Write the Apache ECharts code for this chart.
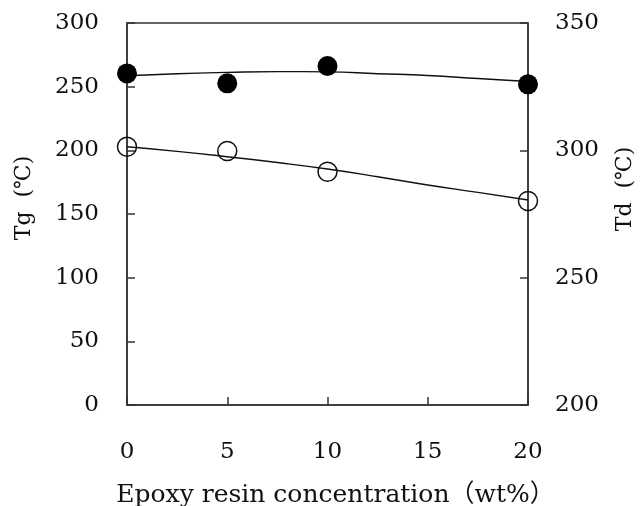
<!DOCTYPE html>
<html>
<head>
<meta charset="utf-8">
<script src="https://cdn.jsdelivr.net/npm/echarts@6/dist/echarts.min.js"></script>
<style>
  html, body { margin: 0; padding: 0; background: #fff; }
  #chart { width: 640px; height: 506px; }
</style>
</head>
<body>
<div id="chart"></div>
<script>
// epoxy resin concentration (wt%)
var conc = [0, 5, 10, 20];
// Td (filled circles, right axis)
var tdValues = [330.2, 326.3, 333.1, 325.9];
// Tg (open circles, left axis)
var tgValues = [202.8, 199.5, 183.2, 160.2];

// fitted curves
var fitX = [0, 2.5, 5, 7.5, 10, 12.5, 15, 17.5, 20];
var tdFit = [329.3, 330.1, 330.6, 330.9, 330.8, 330.1, 329.4, 328.2, 327.0];
var tgFit = [202.8, 199.2, 195.0, 190.4, 185.3, 179.3, 172.8, 167.0, 161.0];

var xTicks = [0, 5, 10, 15, 20];

function pairs(xs, ys) {
  var out = [];
  for (var i = 0; i < xs.length; i++) {
    out.push([xs[i], ys[i]]);
  }
  return out;
}

var font = "'DejaVu Serif', 'Noto Sans CJK JP'";
var axisColor = "#333";
var textColor = "#111";

var chart = echarts.init(document.getElementById("chart"));
var option = {
  animation: false,
  backgroundColor: "#fff",
  grid: {
    left: 127,
    right: 112,
    top: 23,
    bottom: 101,
    outerBoundsMode: "none",
    show: true,
    borderColor: axisColor,
    borderWidth: 1.5,
  },
  xAxis: {
    type: "value",
    min: 0,
    max: 20,
    interval: 5,
    name: "Epoxy resin concentration（wt%）",
    nameLocation: "middle",
    nameGap: 78,
    nameTextStyle: { fontFamily: font, fontSize: 25, color: textColor, padding: [0, 0, 0, 16] },
    axisLine: { lineStyle: { color: axisColor, width: 1.5 } },
    axisTick: { inside: true, length: 8, lineStyle: { color: axisColor, width: 1.5 } },
    axisLabel: {
      margin: 36,
      fontFamily: font,
      fontSize: 23,
      color: textColor,
      formatter: function (v) {
        return xTicks.indexOf(v) >= 0 ? String(v) : "";
      },
    },
    splitLine: { show: false },
  },
  yAxis: [
    {
      type: "value",
      min: 0,
      max: 300,
      interval: 50,
      position: "left",
      name: "Tg  (℃)",
      nameLocation: "middle",
      nameRotate: 90,
      nameGap: 92,
      nameTextStyle: { fontFamily: font, fontSize: 22, color: textColor, padding: [0, 0, 0, 32] },
      axisLine: { show: true, lineStyle: { color: axisColor, width: 1.5 } },
      axisTick: { show: true, inside: true, length: 8, lineStyle: { color: axisColor, width: 1.5 } },
      axisLabel: { margin: 28, fontFamily: font, fontSize: 23, color: textColor },
      splitLine: { show: false },
    },
    {
      type: "value",
      min: 200,
      max: 350,
      interval: 50,
      position: "right",
      name: "Td  (℃)",
      nameLocation: "middle",
      nameRotate: 90,
      nameGap: 86,
      nameTextStyle: { fontFamily: font, fontSize: 22, color: textColor, padding: [0, 0, 0, 50] },
      axisLine: { show: true, lineStyle: { color: axisColor, width: 1.5 } },
      axisTick: { show: true, inside: true, length: 8, lineStyle: { color: axisColor, width: 1.5 } },
      axisLabel: { margin: 27, fontFamily: font, fontSize: 23, color: textColor },
      splitLine: { show: false },
    },
  ],
  series: [
    {
      name: "Td fit",
      type: "line",
      yAxisIndex: 1,
      data: pairs(fitX, tdFit),
      smooth: true,
      symbol: "none",
      lineStyle: { color: "#111", width: 1.4 },
      z: 2,
    },
    {
      name: "Tg fit",
      type: "line",
      yAxisIndex: 0,
      data: pairs(fitX, tgFit),
      smooth: true,
      symbol: "none",
      lineStyle: { color: "#111", width: 1.4 },
      z: 2,
    },
    {
      name: "Td",
      type: "scatter",
      yAxisIndex: 1,
      data: pairs(conc, tdValues),
      symbol: "circle",
      symbolSize: 20,
      itemStyle: { color: "#000", opacity: 1 },
      z: 5,
    },
    {
      name: "Tg",
      type: "scatter",
      yAxisIndex: 0,
      data: pairs(conc, tgValues),
      symbol: "circle",
      symbolSize: 19,
      itemStyle: { color: "rgba(255,255,255,0)", borderColor: "#111", borderWidth: 1.5, opacity: 1 },
      z: 5,
    },
  ],
};
chart.setOption(option);
</script>
</body>
</html>
